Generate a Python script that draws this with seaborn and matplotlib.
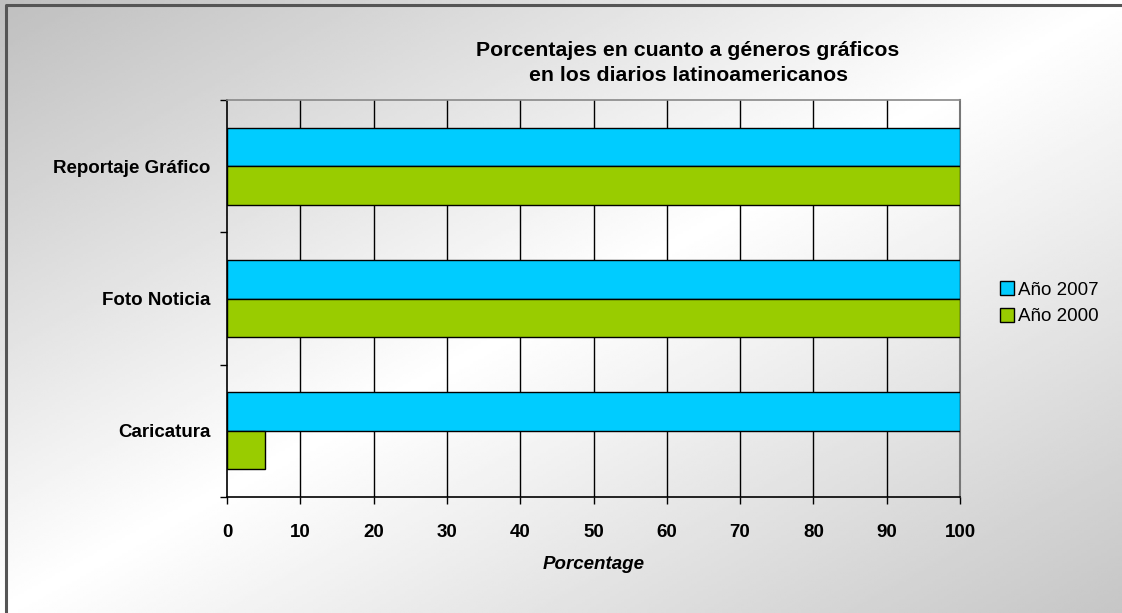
import matplotlib
matplotlib.use("Agg")
import matplotlib.pyplot as plt
import numpy as np
import pandas as pd
import seaborn as sns

# Data
categories = ["Reportaje Gráfico", "Foto Noticia", "Caricatura"]
years = ["Año 2007", "Año 2000"]
values_2007 = [100, 100, 100]
values_2000 = [100, 100, 5.2]
x_ticks = [0, 10, 20, 30, 40, 50, 60, 70, 80, 90, 100]

df = pd.concat([
    pd.DataFrame({"Genero": categories, "Porcentaje": values_2007, "Serie": years[0]}),
    pd.DataFrame({"Genero": categories, "Porcentaje": values_2000, "Serie": years[1]}),
], ignore_index=True)

sns.set_theme(style="white")
plt.rcParams["font.family"] = ["Liberation Sans", "DejaVu Sans"]
plt.rcParams["text.color"] = "black"
plt.rcParams["axes.labelcolor"] = "black"
plt.rcParams["xtick.color"] = "black"
plt.rcParams["ytick.color"] = "black"

W, H = 1122, 613
fig = plt.figure(figsize=(W / 100, H / 100), dpi=100)

# Background gradient (gray corners, white diagonal band)
bg = fig.add_axes([0, 0, 1, 1], zorder=-10)
xx, yy = np.meshgrid(np.linspace(0, 1, 400), np.linspace(0, 1, 240))
t = (xx + yy) / 2
shade = np.where(t < 0.5, 191 + (255 - 191) * t / 0.5, 255 - (255 - 198) * (t - 0.5) / 0.5)
bg.imshow(shade, cmap="gray", vmin=0, vmax=255, aspect="auto", extent=[0, 1, 1, 0])
bg.set_xlim(0, 1)
bg.set_ylim(1, 0)
bg.plot([6 / W, 6 / W, 1], [1, 5 / H, 5 / H], color="#555555", lw=2.2)
bg.axis("off")

ax = fig.add_axes([227 / W, 1 - 497 / H, (960 - 227) / W, (497 - 100) / H])
ax.patch.set_alpha(0)

sns.barplot(data=df, y="Genero", x="Porcentaje", hue="Serie", order=categories,
            hue_order=years, palette=["#00CCFF", "#99CC00"], width=0.58,
            edgecolor="black", linewidth=1, saturation=1, orient="h", ax=ax, zorder=3)

ax.set_xlim(0, 100)
ax.set_ylim(2.5, -0.5)
ax.set_xticks(x_ticks)
ax.set_xticklabels([str(v) for v in x_ticks], fontsize=13.5, fontweight="bold")
ax.set_yticks(range(len(categories)))
ax.set_yticklabels(categories, fontsize=13.5, fontweight="bold")
ax.set_yticks([-0.5, 0.5, 1.5, 2.5], minor=True)
ax.tick_params(axis="y", which="major", length=0, pad=12)
ax.tick_params(axis="y", which="minor", length=5, width=1, color="black", direction="out", left=True)
ax.tick_params(axis="x", which="major", length=5, width=1, color="black", direction="out", bottom=True, pad=14.5)

for v in x_ticks[1:-1]:
    ax.axvline(v, color="black", lw=1, zorder=1)

for side in ["left", "bottom"]:
    ax.spines[side].set_color("black")
    ax.spines[side].set_linewidth(1.2)
ax.spines["right"].set_color("#777777")
ax.spines["right"].set_linewidth(1.5)
ax.spines["top"].set_color("#888888")
ax.spines["top"].set_linewidth(1.2)

ax.set_ylabel("")
ax.set_xlabel("Porcentage", fontsize=13.5, fontweight="bold", fontstyle="italic", labelpad=11)
ax.set_title("Porcentajes en cuanto a géneros gráficos\nen los diarios latinoamericanos",
             fontsize=15.3, fontweight="bold", pad=14, linespacing=1.4)
ax.title.set_x((688 - 227) / (960 - 227))

leg = ax.legend(loc="center left", bbox_to_anchor=(1.031, 0.488), frameon=False, fontsize=13.5,
                handlelength=0.75, handleheight=0.75, handletextpad=0.25, labelspacing=0.5)

fig.savefig("out.png", dpi=100)
